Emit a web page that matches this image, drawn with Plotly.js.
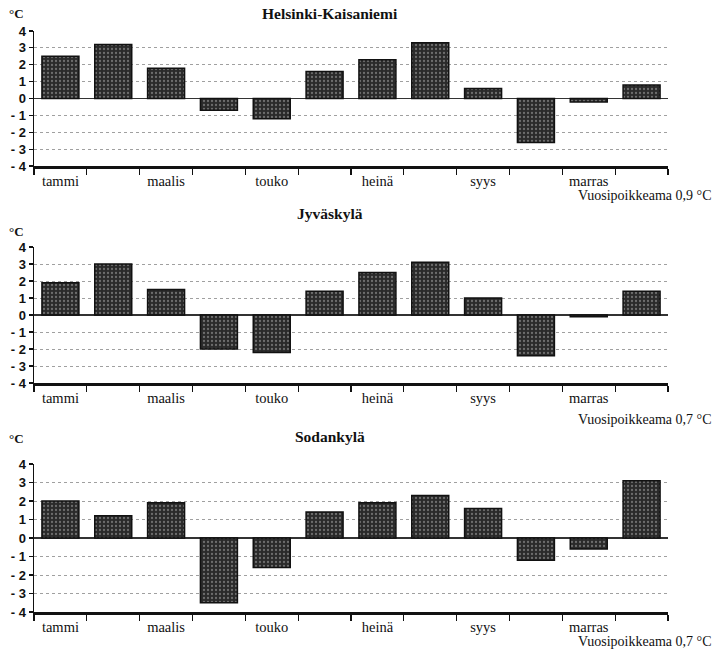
<!DOCTYPE html>
<html>
<head>
<meta charset="utf-8">
<script src="https://cdn.plot.ly/plotly-3.0.1.min.js"></script>
<style>
  html, body { margin: 0; padding: 0; background: #fff; }
  #chart { width: 713px; height: 651px; }
</style>
</head>
<body>
<div id="chart"></div>
<script>
// ---- data ----
const months = ["tammi", "helmi", "maalis", "huhti", "touko", "kesä", "heinä", "elo", "syys", "loka", "marras", "joulu"];
const monthLabels = ["tammi", "", "maalis", "", "touko", "", "heinä", "", "syys", "", "marras", ""];
const stations = ["Helsinki-Kaisaniemi", "Jyväskylä", "Sodankylä"];
const helsinki = [2.5, 3.2, 1.8, -0.7, -1.2, 1.6, 2.3, 3.3, 0.6, -2.6, -0.2, 0.8];
const jyvaskyla = [1.9, 3.0, 1.5, -2.0, -2.2, 1.4, 2.5, 3.1, 1.0, -2.4, -0.1, 1.4];
const sodankyla = [2.0, 1.2, 1.9, -3.5, -1.6, 1.4, 1.9, 2.3, 1.6, -1.2, -0.6, 3.1];
const annualAnomaly = ["0,9", "0,7", "0,7"];
const yTickVals = [-4, -3, -2, -1, 0, 1, 2, 3, 4];
const yTickText = ["- 4", "- 3", "- 2", "- 1", "0", "1", "2", "3", "4"];

// ---- layout helpers ----
const W = 713, H = 651;
const py = v => (H - v) / H;
const px = v => v / W;
const series = [helsinki, jyvaskyla, sodankyla];
const SERIF = "Liberation Serif, Times New Roman, serif";
const SANS = "Liberation Sans, Arial, sans-serif";
// pixel positions of +4 and -4 for each panel
const panels = [
  { top: 31, bottom: 166, title: 14, unit: 14, note: 195 },
  { top: 247, bottom: 383, title: 214, unit: 231, note: 419 },
  { top: 464, bottom: 612, title: 436, unit: 438, note: 641 }
];
const xDomain = [px(34), px(668)];

const traces = series.map((vals, i) => ({
  type: "bar",
  x: months,
  y: vals,
  xaxis: i === 0 ? "x" : "x" + (i + 1),
  yaxis: i === 0 ? "y" : "y" + (i + 1),
  width: 0.7,
  marker: {
    color: "#2a2a2a",
    line: { color: "#111", width: 1.5 },
    pattern: { shape: ".", bgcolor: "#2a2a2a", fgcolor: "#6e6e6e", size: 4, solidity: 0.25 }
  },
  hoverinfo: "x+y",
  showlegend: false
}));

const layout = {
  width: W, height: H,
  margin: { l: 0, r: 0, t: 0, b: 0 },
  paper_bgcolor: "#ffffff",
  plot_bgcolor: "rgba(0,0,0,0)",
  font: { family: SERIF, size: 14, color: "#111" },
  bargap: 0.3,
  showlegend: false,
  annotations: []
};

panels.forEach((p, i) => {
  const sfx = i === 0 ? "" : String(i + 1);
  layout["xaxis" + sfx] = {
    domain: xDomain,
    anchor: "y" + sfx,
    type: "category",
    categoryorder: "array",
    categoryarray: months,
    tickmode: "array",
    tickvals: months,
    ticktext: monthLabels,
    tickson: "boundaries",
    ticks: "outside",
    ticklen: 6,
    tickwidth: 1.2,
    tickcolor: "#111",
    showline: true,
    linecolor: "#111",
    linewidth: 2.5,
    showgrid: false,
    zeroline: false,
    tickfont: { family: SERIF, size: 14.5, color: "#111" },
    fixedrange: true
  };
  layout["yaxis" + sfx] = {
    domain: [py(p.bottom), py(p.top)],
    anchor: "x" + sfx,
    range: [-4, 4],
    tickmode: "array",
    tickvals: yTickVals,
    ticktext: yTickText,
    ticks: "outside",
    ticklen: 4,
    tickwidth: 1.2,
    tickcolor: "#111",
    showline: true,
    linecolor: "#111",
    linewidth: 1.5,
    showgrid: true,
    gridcolor: "#a0a0a0",
    griddash: "dot",
    gridwidth: 1,
    zeroline: true,
    zerolinecolor: "#333",
    zerolinewidth: 1.5,
    tickfont: { family: SANS, size: 13, color: "#111", weight: "bold" },
    fixedrange: true
  };
  layout.annotations.push({
    xref: "paper", yref: "paper", x: px(330), y: py(p.title),
    xanchor: "center", yanchor: "middle", showarrow: false,
    text: stations[i],
    font: { family: SERIF, size: 15.5, color: "#111", weight: "bold" }
  });
  layout.annotations.push({
    xref: "paper", yref: "paper", x: px(7), y: py(p.unit),
    xanchor: "left", yanchor: "middle", showarrow: false,
    text: "°C",
    font: { family: SERIF, size: 13, color: "#111", weight: "bold" }
  });
  layout.annotations.push({
    xref: "paper", yref: "paper", x: 1.0, y: py(p.note),
    xanchor: "right", yanchor: "middle", showarrow: false,
    text: "Vuosipoikkeama " + annualAnomaly[i] + " °C",
    font: { family: SERIF, size: 14, color: "#111" }
  });
});

Plotly.newPlot("chart", traces, layout, { displayModeBar: false, staticPlot: true });
</script>
</body>
</html>
